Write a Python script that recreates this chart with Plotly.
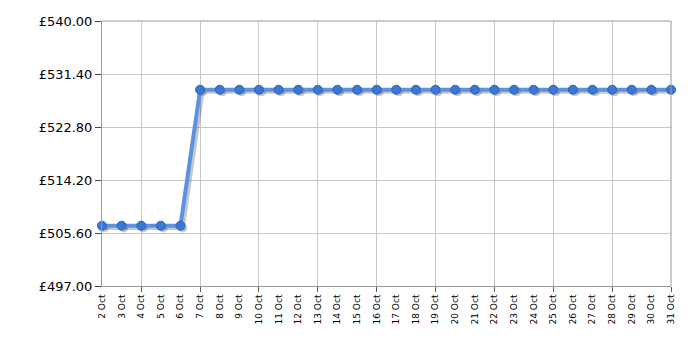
import plotly.graph_objects as go

dates = [f"{d} Oct" for d in range(2, 32)]
prices = [506.78] * 5 + [528.85] * 25
y_ticks = [497.00, 505.60, 514.20, 522.80, 531.40, 540.00]
y_labels = [f"£{v:.2f}" for v in y_ticks]

idx = list(range(len(dates)))
grid_idx = [i for i in idx if (len(dates) - 1 - i) % 3 == 0]

fig = go.Figure()
# shadow
fig.add_trace(go.Scatter(
    x=[i + 0.12 for i in idx], y=[p - 0.35 for p in prices], mode="lines+markers",
    line=dict(color="rgba(0,0,0,0.22)", width=4),
    marker=dict(size=9, color="rgba(0,0,0,0.22)"),
    cliponaxis=False, hoverinfo="skip", showlegend=False))
fig.add_trace(go.Scatter(
    x=idx, y=prices, mode="lines+markers",
    line=dict(color="#5b93e3", width=4),
    marker=dict(size=9, color="#3a78d6", line=dict(color="#2c62b8", width=1)),
    cliponaxis=False, showlegend=False))
fig.add_trace(go.Scatter(x=idx, y=prices, xaxis="x2", mode="markers",
                         marker=dict(opacity=0), hoverinfo="skip", showlegend=False))

fig.update_layout(
    width=700, height=350,
    margin=dict(l=102, r=29, t=21, b=64),
    plot_bgcolor="white", paper_bgcolor="white",
    font=dict(family="DejaVu Sans, Verdana", color="black"),
    xaxis=dict(range=[0, len(dates) - 1], tickmode="array", tickvals=grid_idx,
               showticklabels=False, ticks="outside", ticklen=5, tickcolor="#555",
               showgrid=True, gridcolor="#c8c8c8", gridwidth=1,
               showline=True, linecolor="#999", linewidth=1, zeroline=False,
               mirror=False),
    xaxis2=dict(overlaying="x", matches="x", side="bottom", tickmode="array",
                tickvals=idx, ticktext=dates, tickangle=-90,
                ticks="outside", ticklen=4, tickcolor="rgba(0,0,0,0)",
                showgrid=False, showline=False, zeroline=False,
                tickfont=dict(size=9, color="black")),
    yaxis=dict(range=[497, 540], tickmode="array", tickvals=y_ticks, ticktext=y_labels,
               ticks="outside", ticklen=6, tickcolor="#444",
               showgrid=True, gridcolor="#c8c8c8", gridwidth=1,
               showline=True, linecolor="#999", linewidth=1, zeroline=False,
               tickfont=dict(size=13, color="black")),
)
fig.add_shape(type="line", xref="paper", yref="paper", x0=0, x1=1, y0=1, y1=1,
              line=dict(color="#999", width=1))
fig.add_shape(type="line", xref="paper", yref="paper", x0=1, x1=1, y0=0, y1=1,
              line=dict(color="#999", width=1))

fig.write_html("out.html")
